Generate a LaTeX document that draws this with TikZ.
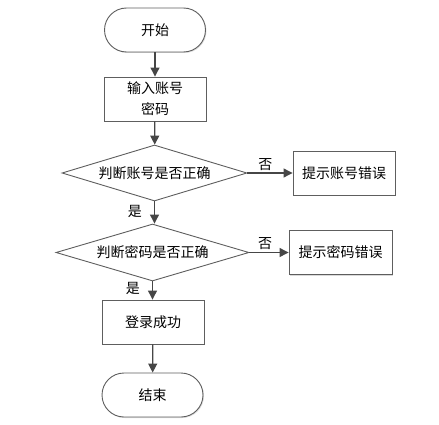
\documentclass[tikz,border=0pt]{standalone}
\usepackage{fontspec}
\setmainfont{Noto Sans CJK SC}
\usetikzlibrary{shapes.geometric,arrows.meta,shadows}
\definecolor{lineC}{HTML}{464646}
\definecolor{borderC}{HTML}{5E5E5E}
\begin{document}
\begin{tikzpicture}[x=1pt,y=-1pt,
  font=\fontsize{14pt}{20pt}\selectfont,
  term/.style={draw=borderC,line width=0.9pt,rounded corners=22pt,minimum width=101pt,minimum height=44pt,inner sep=0pt,fill=white,drop shadow={shadow xshift=1pt,shadow yshift=-1pt,opacity=0.25}},
  procbox/.style={draw=borderC,line width=0.9pt,minimum width=102pt,minimum height=44pt,inner sep=0pt,fill=white,align=center,drop shadow={shadow xshift=1.2pt,shadow yshift=-1.2pt,opacity=0.3}},
  decide/.style={draw=borderC,line width=0.9pt,shape=diamond,aspect=3.3,inner sep=0pt,fill=white},
  flow/.style={draw=lineC,line width=1.2pt,-{Triangle[length=9pt,width=9pt]}},
  lbl/.style={inner sep=0pt}]
\useasboundingbox (0,0) rectangle (439,425);
\node[term] (start) at (155,30) {开始};
\node[procbox] (input) at (155,99) {输入账号\\[1pt]密码};
\node[decide,minimum width=185pt,minimum height=56pt] (d1) at (154.5,173) {判断账号是否正确};
\node[procbox] (err1) at (344,173) {提示账号错误};
\node[decide,minimum width=193pt,minimum height=57pt] (d2) at (152.5,252.5) {判断密码是否正确};
\node[procbox,minimum width=103pt] (err2) at (340.5,252.5) {提示密码错误};
\node[procbox] (ok) at (153,322) {登录成功};
\node[term,minimum width=101pt] (end) at (152.5,395) {结束};

\draw[flow] (start) -- (input);
\draw[flow] (input) -- (d1);
\draw[flow] (d1) -- (err1) node[lbl,pos=0.4,above=2pt] (n1) {否};
\draw[flow] (d1.south) -- (d1.south |- d2.north) node[lbl,pos=0.45,left=12pt] (y1) {是};
\draw[flow] (d2) -- (err2) node[lbl,pos=0.4,above=2pt] (n2) {否};
\draw[flow] (d2.south) -- (d2.south |- ok.north) node[lbl,pos=0.4,left=12pt] (y2) {是};
\draw[flow] (ok) -- (end);
\end{tikzpicture}
\end{document}
